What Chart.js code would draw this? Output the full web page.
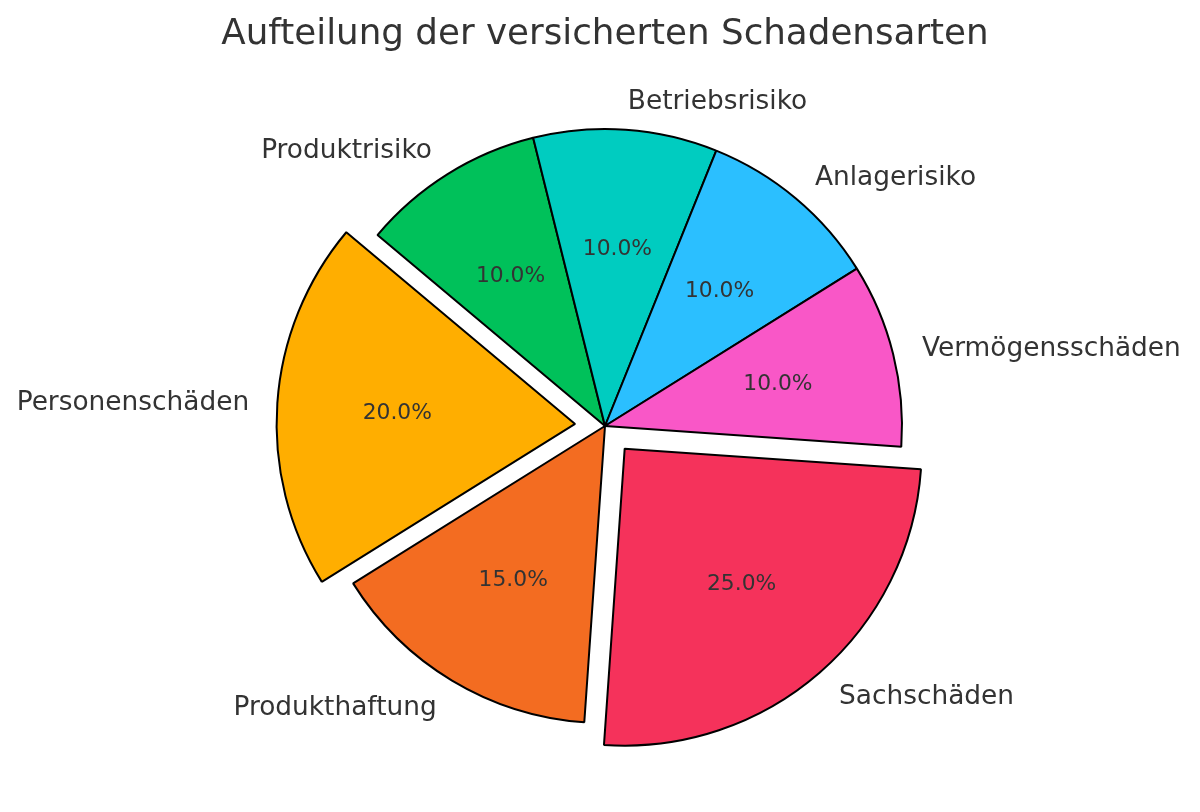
<!DOCTYPE html>
<html>
<head>
<meta charset="utf-8">
<script src="https://cdn.jsdelivr.net/npm/chart.js@4"></script>
<style>
  html, body { margin: 0; padding: 0; background: #ffffff; }
  #wrap { width: 1200px; height: 812px; position: relative; }
</style>
</head>
<body>
<div id="wrap"><canvas id="c"></canvas></div>
<script>
// Data (listed clockwise, as Chart.js draws)
const categories = ["Produktrisiko", "Betriebsrisiko", "Anlagerisiko", "Vermögensschäden", "Sachschäden", "Produkthaftung", "Personenschäden"];
const values = [10, 10, 10, 10, 25, 15, 20];
const colors = ["#00C15A", "#00CCC0", "#2BBFFF", "#F957C7", "#F5325B", "#F36C21", "#FFAE00"];
const explodePx = [0, 0, 0, 0, 30, 0, 30];
const titleText = "Aufteilung der versicherten Schadensarten";

const FONT = "'DejaVu Sans', 'Liberation Sans', sans-serif";
const TEXT = "#333333";

const labelPlugin = {
  id: 'pieLabels',
  afterDatasetsDraw(chart) {
    const ctx = chart.ctx;
    const meta = chart.getDatasetMeta(0);
    const total = values.reduce((a, b) => a + b, 0);
    ctx.save();
    meta.data.forEach((arc, i) => {
      const p = arc.getProps(['x', 'y', 'startAngle', 'endAngle', 'outerRadius'], true);
      const mid = (p.startAngle + p.endAngle) / 2;
      const r = p.outerRadius;
      const cx = p.x + Math.cos(mid) * explodePx[i];
      const cy = p.y + Math.sin(mid) * explodePx[i];
      // category label
      const lx = cx + Math.cos(mid) * r * 1.1;
      const ly = cy + Math.sin(mid) * r * 1.1 + 2;
      ctx.fillStyle = TEXT;
      ctx.font = "26.4px " + FONT;
      ctx.textBaseline = 'middle';
      ctx.textAlign = Math.cos(mid) >= 0 ? 'left' : 'right';
      ctx.fillText(categories[i], lx, ly);
      // percentage label
      const px = cx + Math.cos(mid) * r * 0.6;
      const py = cy + Math.sin(mid) * r * 0.6 + 1.5;
      ctx.font = "21.8px " + FONT;
      ctx.textAlign = 'center';
      ctx.fillText((values[i] / total * 100).toFixed(1) + '%', px, py);
    });
    // title
    ctx.font = "35.7px " + FONT;
    ctx.textAlign = 'center';
    ctx.textBaseline = 'alphabetic';
    ctx.fillStyle = TEXT;
    ctx.fillText(titleText, 605, 44);
    ctx.restore();
  }
};

new Chart(document.getElementById('c'), {
  type: 'pie',
  data: {
    labels: categories,
    datasets: [{
      data: values,
      backgroundColor: colors,
      borderColor: '#000000',
      borderWidth: 2,
      hoverBorderWidth: 2,
      offset: explodePx.map(v => v * 4),
      hoverOffset: 0
    }]
  },
  options: {
    responsive: true,
    maintainAspectRatio: false,
    animation: false,
    rotation: -50,
    layout: { padding: { top: 68, bottom: 28, left: 10, right: 0 } },
    plugins: {
      legend: { display: false },
      tooltip: { enabled: false },
      title: { display: false }
    },
    events: []
  },
  plugins: [labelPlugin]
});
</script>
</body>
</html>
